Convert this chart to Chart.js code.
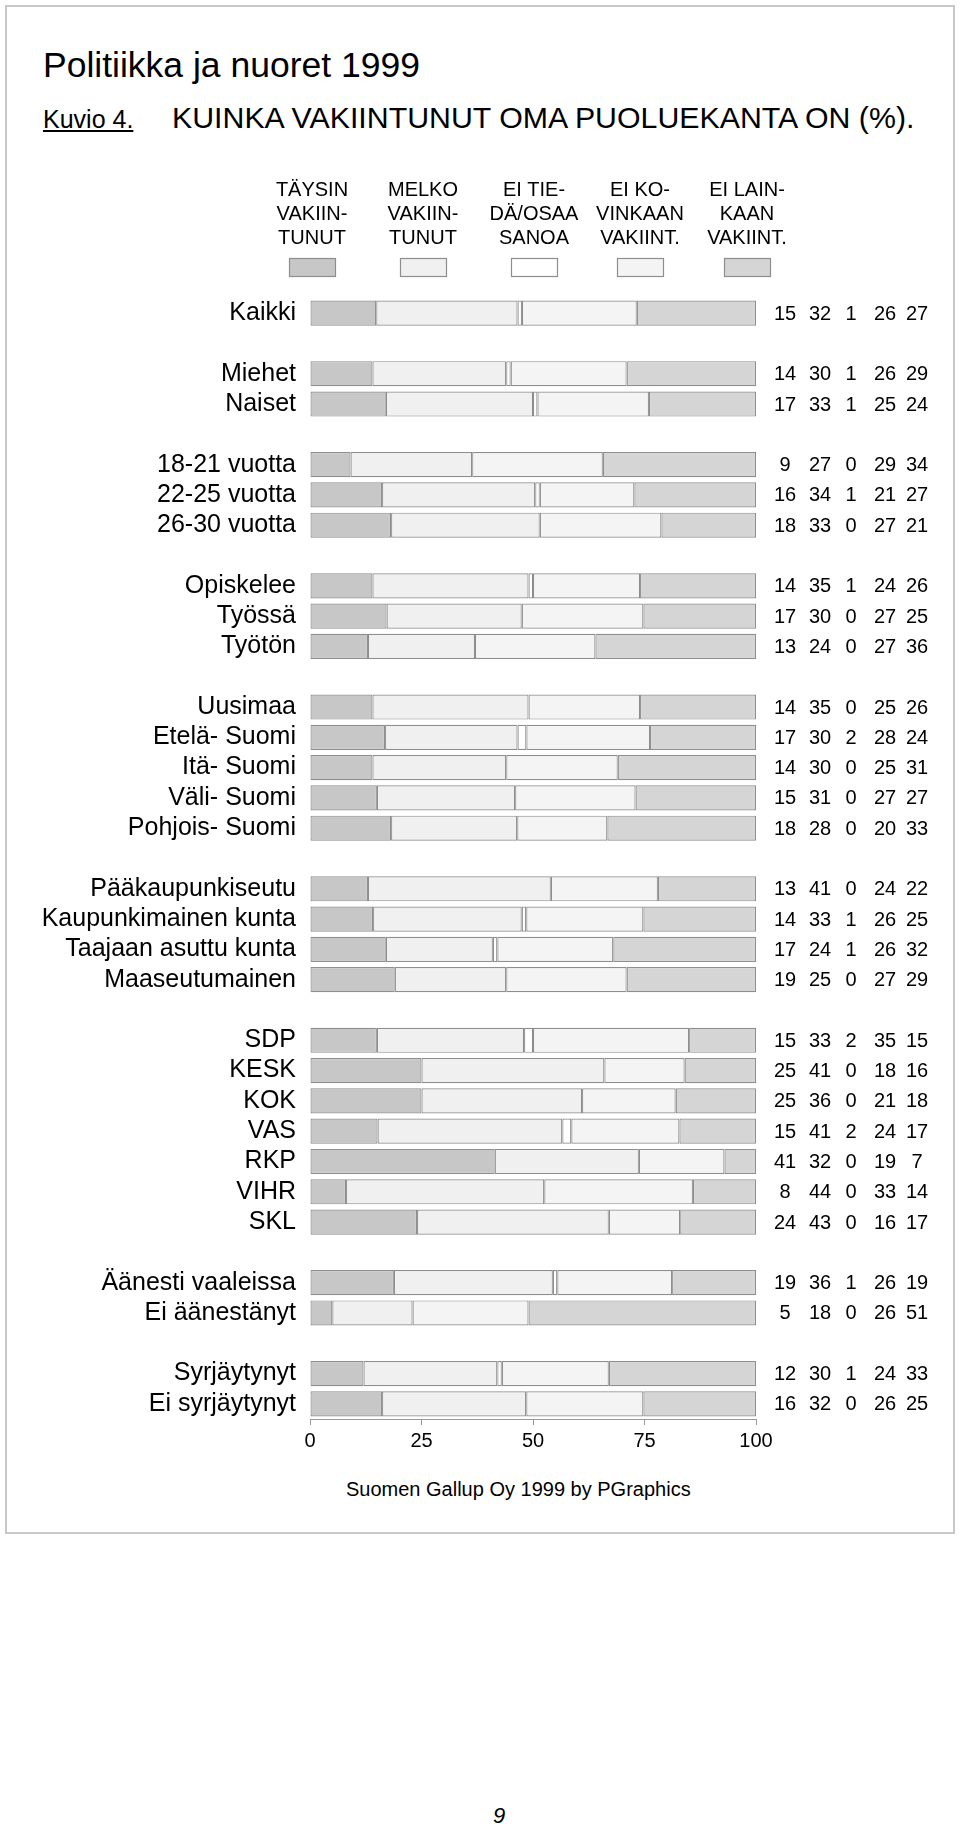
<!DOCTYPE html>
<html lang="fi">
<head>
<meta charset="utf-8">
<title>Politiikka ja nuoret 1999 – Kuvio 4</title>
<script src="https://cdn.jsdelivr.net/npm/chart.js@4.4.1/dist/chart.umd.min.js"></script>
<style>
  html, body { margin: 0; padding: 0; background: #fff; }
  body { width: 960px; height: 1826px; position: relative; overflow: hidden;
         font-family: "Liberation Sans", Arial, Helvetica, sans-serif; color: #000; }
  #frame { position: absolute; left: 5px; top: 5px; width: 950px; height: 1529px;
           border: 2px solid #c8c8c8; box-sizing: border-box; }
  .txt { position: absolute; line-height: 1; white-space: nowrap; }
  #title { left: 43px; top: 48px; font-size: 35.5px; }
  #kuvio { left: 43px; top: 107px; font-size: 25px; text-decoration: underline; }
  #sub { left: 172px; top: 103px; font-size: 30.3px; }
  #foot { left: 346px; top: 1479px; font-size: 20px; }
  #page { left: 493px; top: 1805px; font-size: 22px; font-style: italic; }
  canvas { position: absolute; left: 0; top: 0; }
</style>
</head>
<body>
<div id="frame"></div>
<div class="txt" id="title">Politiikka ja nuoret 1999</div>
<div class="txt" id="kuvio">Kuvio 4.</div>
<div class="txt" id="sub">KUINKA VAKIINTUNUT OMA PUOLUEKANTA ON (%).</div>
<div class="txt" id="foot">Suomen Gallup Oy 1999 by PGraphics</div>
<div class="txt" id="page">9</div>
<canvas id="c" width="960" height="1826"></canvas>
<script>
// ---- DATA (empty label / null = spacer row between groups) ----
const categories = [
  'Kaikki', '',
  'Miehet', 'Naiset', '',
  '18-21 vuotta', '22-25 vuotta', '26-30 vuotta', '',
  'Opiskelee', 'Työssä', 'Työtön', '',
  'Uusimaa', 'Etelä- Suomi', 'Itä- Suomi', 'Väli- Suomi', 'Pohjois- Suomi', '',
  'Pääkaupunkiseutu', 'Kaupunkimainen kunta', 'Taajaan asuttu kunta', 'Maaseutumainen', '',
  'SDP', 'KESK', 'KOK', 'VAS', 'RKP', 'VIHR', 'SKL', '',
  'Äänesti vaaleissa', 'Ei äänestänyt', '',
  'Syrjäytynyt', 'Ei syrjäytynyt'
];
const seriesLabels = [
  'TÄYSIN\nVAKIIN-\nTUNUT',
  'MELKO\nVAKIIN-\nTUNUT',
  'EI TIE-\nDÄ/OSAA\nSANOA',
  'EI KO-\nVINKAAN\nVAKIINT.',
  'EI LAIN-\nKAAN\nVAKIINT.'
];
const taysin   = [15,null, 14,17,null,  9,16,18,null, 14,17,13,null, 14,17,14,15,18,null, 13,14,17,19,null, 15,25,25,15,41, 8,24,null, 19, 5,null, 12,16];
const melko    = [32,null, 30,33,null, 27,34,33,null, 35,30,24,null, 35,30,30,31,28,null, 41,33,24,25,null, 33,41,36,41,32,44,43,null, 36,18,null, 30,32];
const eiTieda  = [ 1,null,  1, 1,null,  0, 1, 0,null,  1, 0, 0,null,  0, 2, 0, 0, 0,null,  0, 1, 1, 0,null,  2, 0, 0, 2, 0, 0, 0,null,  1, 0,null,  1, 0];
const eiKovin  = [26,null, 26,25,null, 29,21,27,null, 24,27,27,null, 25,28,25,27,20,null, 24,26,26,27,null, 35,18,21,24,19,33,16,null, 26,26,null, 24,26];
const eiLaink  = [27,null, 29,24,null, 34,27,21,null, 26,25,36,null, 26,24,31,27,33,null, 22,25,32,29,null, 15,16,18,17, 7,14,17,null, 19,51,null, 33,25];
const xTicks   = [0, 25, 50, 75, 100];

// ---- STYLE ----
const FONT = '"Liberation Sans", Arial, Helvetica, sans-serif';
const fills = ['#c7c7c7', '#f0f0f0', '#ffffff', '#f4f4f4', '#d5d5d5'];
const edge = '#8e8e8e';
const numberCols = [785, 820, 851, 885, 917];
const legendCols = [312, 423, 534, 640, 747];

const series = [taysin, melko, eiTieda, eiKovin, eiLaink];
const totals = categories.map((_, i) => series[0][i] == null ? null : series.reduce((s, a) => s + a[i], 0));

const datasets = series.map((arr, k) => ({
  label: seriesLabels[k],
  raw: arr,
  data: arr.map((v, i) => v == null ? null : v / totals[i] * 100),
  backgroundColor: fills[k],
  borderColor: edge,
  borderWidth: 1.2,
  borderSkipped: false,
  barPercentage: 0.83,
  categoryPercentage: 1
}));

const numbersPlugin = {
  id: 'rowNumbers',
  afterDatasetsDraw(chart) {
    const ctx = chart.ctx, y = chart.scales.y;
    ctx.save();
    ctx.font = '20px ' + FONT;
    ctx.fillStyle = '#000';
    ctx.textAlign = 'center';
    ctx.textBaseline = 'middle';
    chart.data.datasets.forEach((ds, k) => {
      ds.raw.forEach((v, i) => {
        if (v == null) return;
        ctx.fillText(String(v), numberCols[k], y.getPixelForValue(i) + 1);
      });
    });
    ctx.restore();
  }
};

const legendPlugin = {
  id: 'topLegend',
  afterDraw(chart) {
    const ctx = chart.ctx;
    ctx.save();
    ctx.font = '20px ' + FONT;
    ctx.fillStyle = '#000';
    ctx.textAlign = 'center';
    ctx.textBaseline = 'middle';
    chart.data.datasets.forEach((ds, k) => {
      const cx = legendCols[k];
      ds.label.split('\n').forEach((line, j) => {
        ctx.fillText(line, cx, 190 + j * 24);
      });
      ctx.fillStyle = ds.backgroundColor;
      ctx.fillRect(cx - 23, 258, 46, 18);
      ctx.strokeStyle = edge;
      ctx.lineWidth = 1.2;
      ctx.strokeRect(cx - 23 + 0.5, 258.5, 46, 18);
      ctx.fillStyle = '#000';
    });
    ctx.restore();
  }
};

new Chart(document.getElementById('c'), {
  type: 'bar',
  data: { labels: categories, datasets },
  plugins: [numbersPlugin, legendPlugin],
  options: {
    indexAxis: 'y',
    responsive: false,
    animation: false,
    devicePixelRatio: 1,
    layout: { padding: { top: 298, right: 204, bottom: 367, left: 0 } },
    plugins: { legend: { display: false }, tooltip: { enabled: false }, title: { display: false } },
    scales: {
      y: {
        type: 'category',
        stacked: true,
        grid: { display: false, drawTicks: false },
        border: { display: false },
        ticks: { autoSkip: false, padding: 14, color: '#000', font: { size: 25, family: FONT } },
        afterFit(s) { s.width = 310; }
      },
      x: {
        type: 'linear',
        stacked: true,
        min: 0, max: 100,
        afterBuildTicks(s) { s.ticks = xTicks.map(v => ({ value: v })); },
        ticks: { padding: 4, color: '#000', font: { size: 20, family: FONT } },
        grid: { drawOnChartArea: false, drawTicks: true, tickLength: 6, color: '#999' },
        border: { display: true, color: '#999', width: 1 },
        afterFit(s) { s.height = 40; }
      }
    }
  }
});
</script>
</body>
</html>
